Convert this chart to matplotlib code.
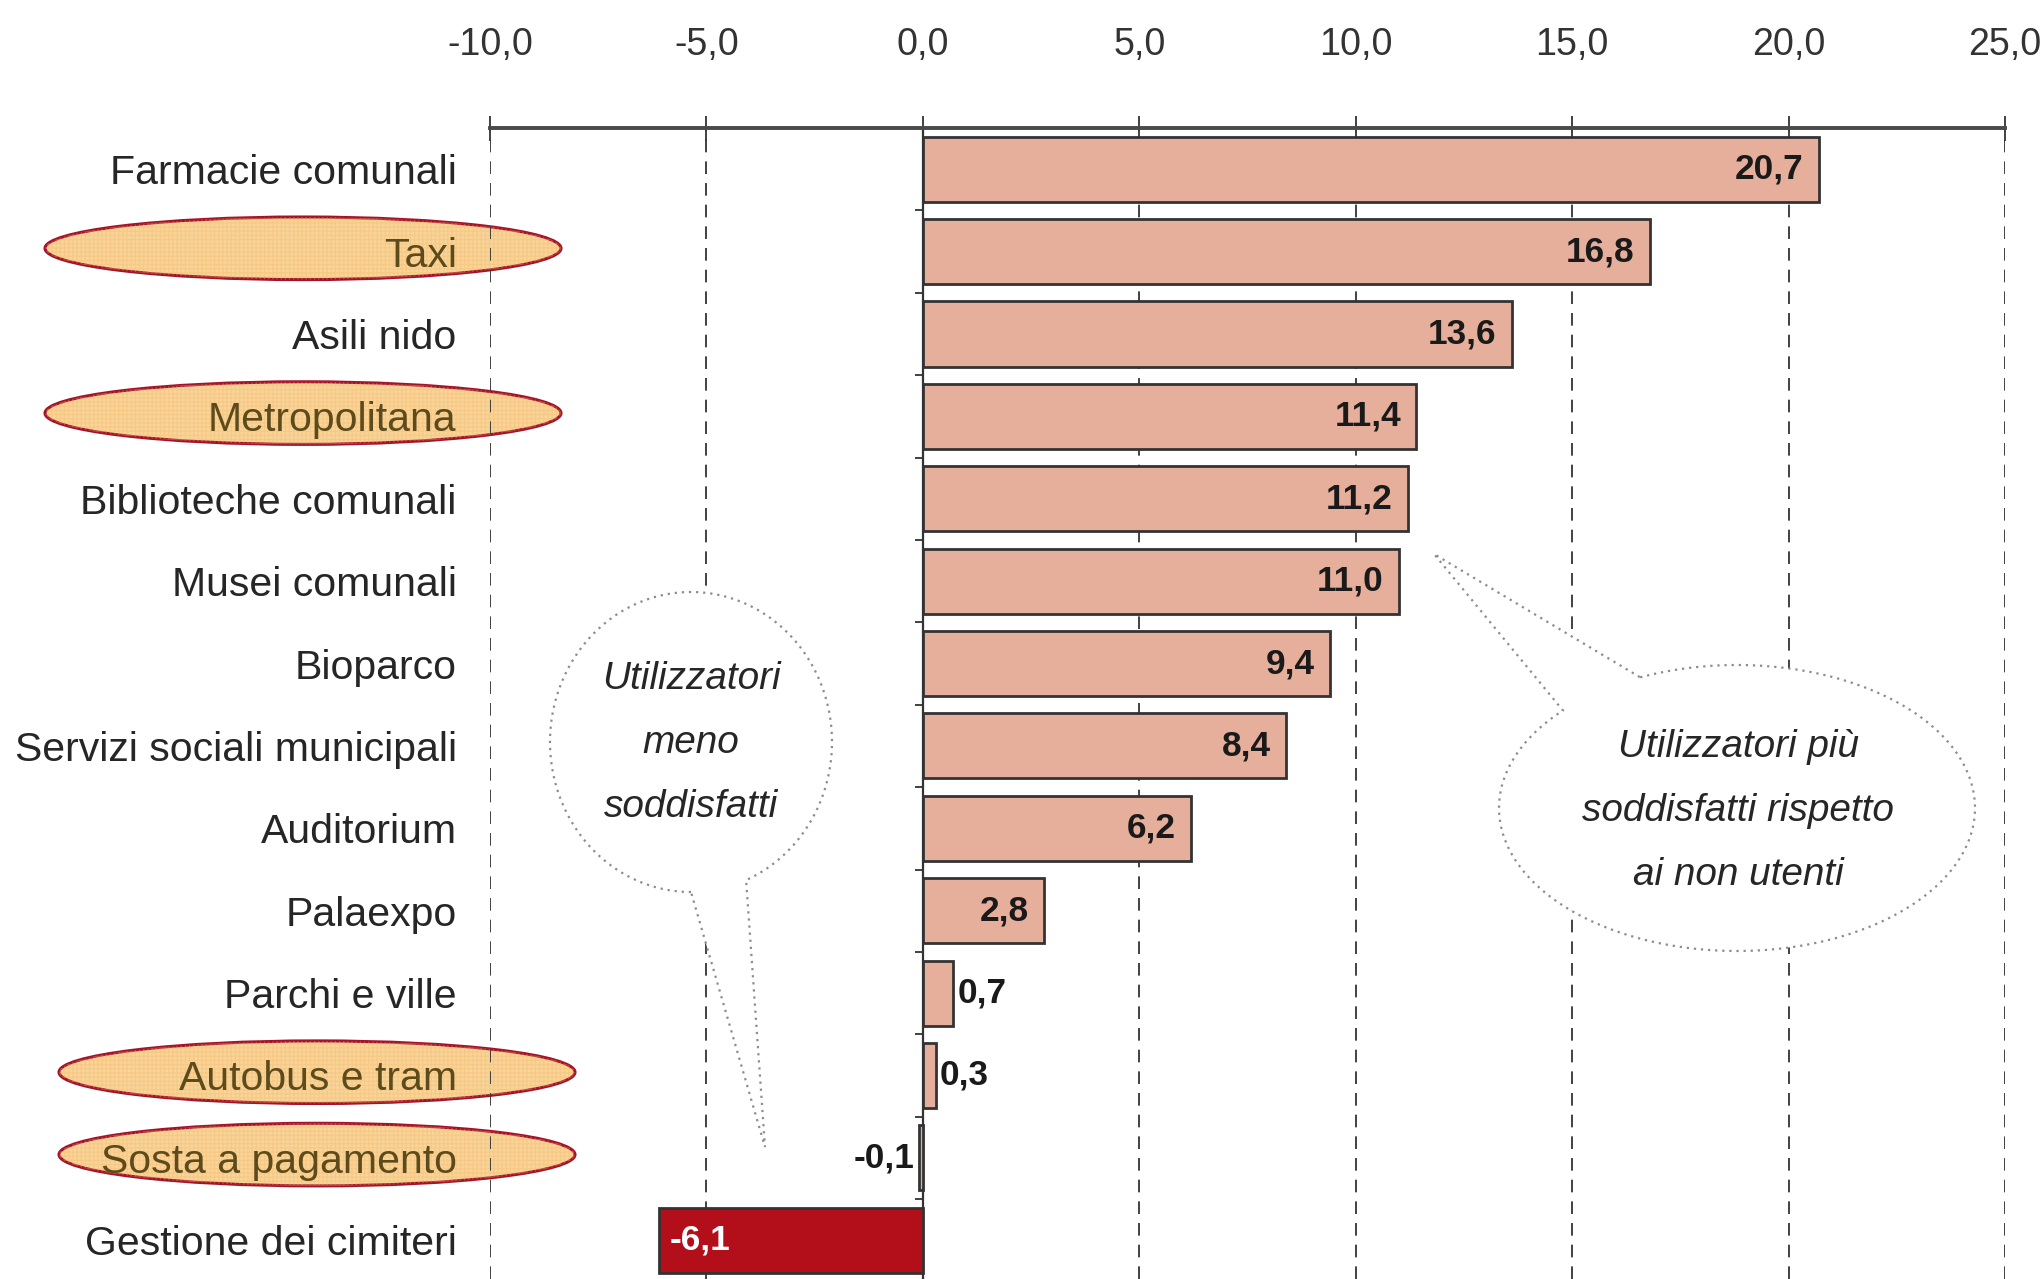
import numpy as np
import matplotlib
matplotlib.use("Agg")
import matplotlib.pyplot as plt
from matplotlib import font_manager as fm
from matplotlib.patches import Ellipse, PathPatch
from matplotlib.path import Path
import matplotlib.transforms as mtransforms
from matplotlib.ticker import FuncFormatter

categories = ["Farmacie comunali", "Taxi", "Asili nido", "Metropolitana",
              "Biblioteche comunali", "Musei comunali", "Bioparco",
              "Servizi sociali municipali", "Auditorium", "Palaexpo",
              "Parchi e ville", "Autobus e tram", "Sosta a pagamento",
              "Gestione dei cimiteri"]
values = [20.7, 16.8, 13.6, 11.4, 11.2, 11.0, 9.4, 8.4, 6.2, 2.8, 0.7, 0.3, -0.1, -6.1]
highlighted = ["Taxi", "Metropolitana", "Autobus e tram", "Sosta a pagamento"]
x_ticks = [-10, -5, 0, 5, 10, 15, 20, 25]
note_left = "Utilizzatori\nmeno\nsoddisfatti"
note_right = "Utilizzatori più\nsoddisfatti rispetto\nai non utenti"

names = {f.name for f in fm.fontManager.ttflist}
if "Liberation Sans Narrow" in names:
    FONT, sc = "Liberation Sans Narrow", 1.0
else:
    FONT, sc = "Liberation Sans", 0.82
plt.rcParams["font.family"] = [FONT, "DejaVu Sans"]

W, H = 2044, 1279
fig = plt.figure(figsize=(W / 100, H / 100), dpi=100)
ax = fig.add_axes([490 / W, 0.0, (2005 - 490) / W, 1 - 128 / H])

SALMON = "#E6AF9B"
DARKRED = "#B30F1B"
colors = [DARKRED if v <= -1 else SALMON for v in values]
ypos = np.arange(len(categories))
ax.barh(ypos, values, height=0.79, color=colors, edgecolor="#333333",
        linewidth=2, zorder=3)

ax.set_xlim(x_ticks[0], x_ticks[-1])
ax.set_ylim(13.47, -0.5)
ax.xaxis.set_ticks_position("top")
ax.set_xticks(x_ticks)
ax.xaxis.set_major_formatter(FuncFormatter(lambda x, p: f"{x:.1f}".replace(".", ",")))
ax.tick_params(axis="x", direction="inout", length=18, width=1.3, color="#333333",
               pad=38, labelsize=33 * sc, labelcolor="#333333")
for s in ["left", "right", "bottom"]:
    ax.spines[s].set_visible(False)
ax.spines["top"].set_linewidth(2.8)
ax.spines["top"].set_color("#4a4a4a")
ax.grid(axis="x", linestyle=(0, (7, 5)), color="#333333", linewidth=1.3)
ax.set_axisbelow(True)

ax.set_yticks(ypos)
ax.set_yticklabels(categories)
ax.tick_params(axis="y", length=0, pad=24, labelsize=36 * sc, labelcolor="#262626")
for lab in ax.get_yticklabels():
    if lab.get_text() in highlighted:
        lab.set_color("#5E4B1C")

# zero axis with category separators
sec = ax.secondary_yaxis((0 - x_ticks[0]) / (x_ticks[-1] - x_ticks[0]))
sec.set_yticks(np.arange(-0.5, len(categories), 1.0))
sec.set_yticklabels([])
sec.tick_params(axis="y", direction="out", length=6, width=1.3, color="#333333")
sec.spines["left"].set_linewidth(1.6)
sec.spines["left"].set_color("#333333")

# value labels
for y, v in zip(ypos, values):
    txt = f"{v:.1f}".replace(".", ",")
    kw = dict(va="center", fontsize=31 * sc, fontweight="bold", zorder=5,
              textcoords="offset points")
    if v >= 2:
        ax.annotate(txt, (v, y), xytext=(-11, 0), ha="right", color="#1a1a1a", **kw)
    elif v >= 0:
        ax.annotate(txt, (v, y), xytext=(3, 0), ha="left", color="#1a1a1a", **kw)
    elif v > -1:
        ax.annotate(txt, (v, y), xytext=(-3, 0), ha="right", color="#1a1a1a", **kw)
    else:
        ax.annotate(txt, (v, y), xytext=(8, 0), ha="left", color="white", **kw)

# highlight ellipses behind label text
blend = mtransforms.blended_transform_factory(mtransforms.IdentityTransform(), ax.transData)
for name in highlighted:
    i = categories.index(name)
    cx = 303 if i < 5 else 317
    e = Ellipse((cx, i - 0.04), width=516, height=0.76, transform=blend,
                facecolor="#F9D59B", edgecolor="#A3122A", linewidth=2.2,
                clip_on=False, zorder=0.2)
    ax.add_patch(e)
    e2 = Ellipse((cx, i - 0.04), width=516, height=0.76, transform=blend,
                 facecolor="none", edgecolor="#F3B660", linewidth=0,
                 hatch="++++", clip_on=False, zorder=0.25, alpha=0.35)
    ax.add_patch(e2)

# callout bubbles in pixel overlay
ov = fig.add_axes([0, 0, 1, 1], zorder=10)
ov.set_xlim(0, W)
ov.set_ylim(H, 0)
ov.axis("off")
ov.patch.set_alpha(0)


def bubble(cx, cy, a, b, t0, t1, tip):
    t = np.radians(np.linspace(t0, t1, 200))
    pts = np.column_stack([cx + a * np.cos(t), cy + b * np.sin(t)])
    pts = np.vstack([pts, tip, pts[0]])
    p = Path(pts)
    ov.add_patch(PathPatch(p, facecolor="white", edgecolor="#8c8c8c",
                           linestyle=(0, (1, 2.2)), linewidth=1.6))


bubble(691, 742, 141, 150, 90, 427, (765, 1147))
bubble(1737, 808, 238, 143, 246, 583, (1434, 554))

ov.text(691, 743, note_left, ha="center", va="center", style="italic",
        fontsize=34 * sc, color="#262626", linespacing=2.0)
ov.text(1738, 811, note_right, ha="center", va="center", style="italic",
        fontsize=34 * sc, color="#262626", linespacing=2.0)

fig.savefig("out.png", dpi=100)
